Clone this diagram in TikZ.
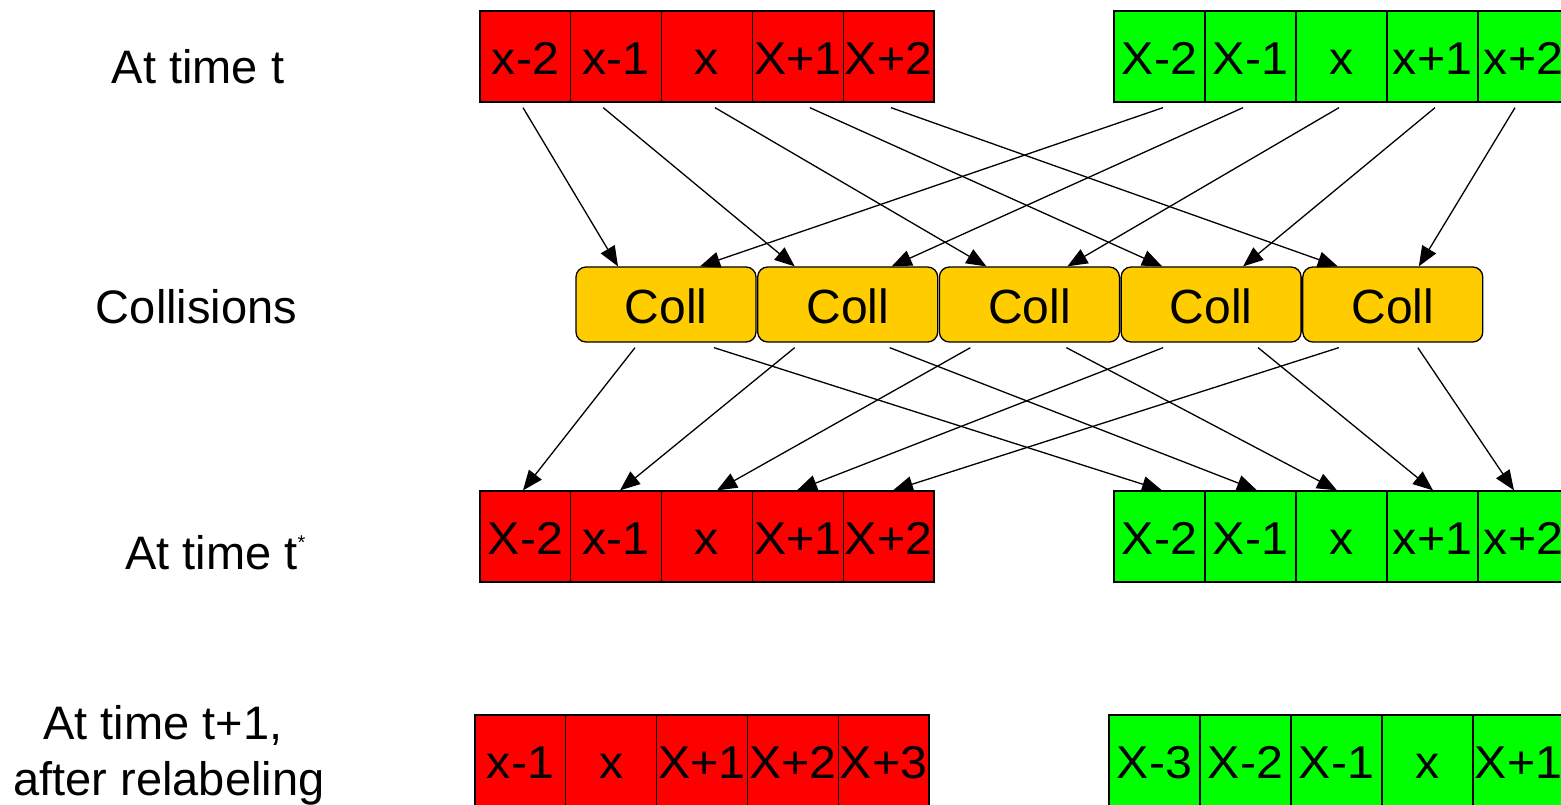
\documentclass[tikz,border=0pt]{standalone}
\usepackage{fontspec}
\setmainfont{Liberation Sans}
\newfontfamily\cellfont[FakeStretch=1.05]{Liberation Sans}
\usetikzlibrary{arrows.meta}
\definecolor{collyellow}{HTML}{FFCC00}
\definecolor{cellred}{HTML}{FF0000}
\definecolor{cellgreen}{HTML}{00FF00}
\begin{document}
\begin{tikzpicture}[x=1pt,y=-1pt,
 cell/.style={draw=black, line width=1.3pt, minimum width=90.8pt, minimum height=91pt, inner sep=0pt,
   font=\cellfont\fontsize{46}{52}\selectfont, text height=36pt, text depth=0pt},
 redcell/.style={cell, fill=cellred},
 greencell/.style={cell, fill=cellgreen},
 coll/.style={draw=black, line width=1.3pt, fill=collyellow, rounded corners=10pt, minimum width=180pt,
   minimum height=75pt, inner sep=0pt, font=\fontsize{48}{56}\selectfont, text height=37pt, text depth=0pt},
 lab/.style={font=\fontsize{47}{56}\selectfont, inner sep=0pt, anchor=base},
 arr/.style={-{Triangle[length=20pt,width=16pt]}, line width=1.3pt}
]
\clip (0,0) rectangle (1561,804);
% row 1: at time t
\foreach \t [count=\i] in {x-2,x-1,x,X+1,X+2}
  \node[redcell] (tr\i) at ({525.4+(\i-1)*90.8}, 56.5) {\t};
\foreach \t [count=\i] in {X-2,X-1,x,x+1,x+2}
  \node[greencell] (tg\i) at ({1159.5+(\i-1)*91}, 56.5) {\t};
% collisions
\foreach \i in {1,...,5}
  \node[coll] (cl\i) at ({666+(\i-1)*181.7}, 304.5) {Coll};
% row 3: at time t*
\foreach \t [count=\i] in {X-2,x-1,x,X+1,X+2}
  \node[redcell] (mr\i) at ({525.4+(\i-1)*90.8}, 536.5) {\t};
\foreach \t [count=\i] in {X-2,X-1,x,x+1,x+2}
  \node[greencell] (mg\i) at ({1159.5+(\i-1)*91}, 536.5) {\t};
% row 4: at time t+1
\foreach \t [count=\i] in {x-1,x,X+1,X+2,X+3}
  \node[redcell] (br\i) at ({520.4+(\i-1)*90.8}, 760.5) {\t};
\foreach \t [count=\i] in {X-3,X-2,X-1,x,X+1}
  \node[greencell] (bg\i) at ({1154.5+(\i-1)*91}, 760.5) {\t};
% labels
\node[lab] (l1) at (198,83) {At time t};
\node[lab] (l2) at (196.5,323) {Collisions};
\node[lab, anchor=base west] (l3) at (125,569) {At time t\raisebox{20pt}{\fontsize{20}{20}\selectfont *}};
\node[lab] (l4) at (163,739) {At time t+1,};
\node[lab] (l5) at (169,795) {after relabeling};
% arrows: row 1 -> collisions
\foreach \i/\sa/\ea in {1/-2.4/-48, 2/-13/-53, 3/8/-43, 4/12/-49, 5/2.4/-55}
  \draw[arr] ([xshift=\sa pt, yshift=-5pt]tr\i.south) -- ([xshift=\ea pt]cl\i.north);
\foreach \i/\sa/\ea in {1/3.5/34, 2/-7.5/44, 3/-2.5/38, 4/2.5/32, 5/-8.5/26}
  \draw[arr] ([xshift=\sa pt, yshift=-5pt]tg\i.south) -- ([xshift=\ea pt]cl\i.north);
% arrows: collisions -> row 3
\foreach \i/\sa/\ea in {1/-31/-2.4, 2/-53/3.8, 3/-59/10, 4/-48/-0.8, 5/-54/4.4}
  \draw[arr] ([xshift=\sa pt, yshift=-5pt]cl\i.south) -- ([xshift=\ea pt]mr\i.north);
\foreach \i/\sa/\ea in {1/48/2.5, 2/42/6.5, 3/37/-4.5, 4/47/0.5, 5/25/-9.5}
  \draw[arr] ([xshift=\sa pt, yshift=-5pt]cl\i.south) -- ([xshift=\ea pt]mg\i.north);
\end{tikzpicture}
\end{document}
